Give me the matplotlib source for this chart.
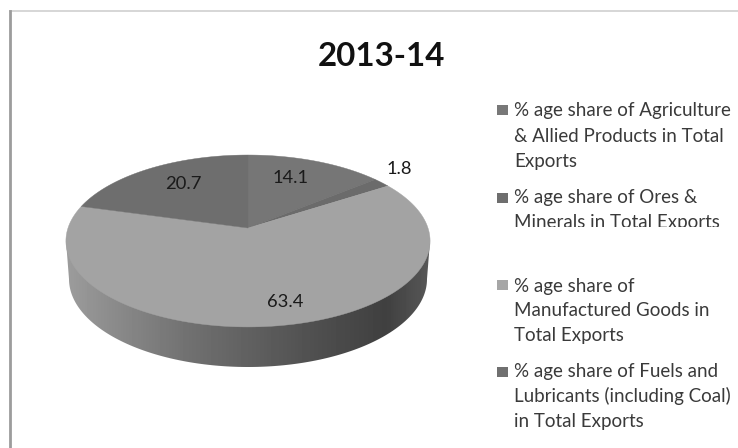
import numpy as np
import matplotlib
matplotlib.use('Agg')
import matplotlib.pyplot as plt
from matplotlib.patches import Polygon, Rectangle

values = [14.1, 1.8, 63.4, 20.7]
value_labels = ['14.1', '1.8', '63.4', '20.7']
slice_colors = ['#767676', '#6b6b6b', '#a3a3a3', '#6e6e6e']
legend_colors = ['#787878', '#6e6e6e', '#a6a6a6', '#707070']
legend_lines = [
    ['% age share of Agriculture', '& Allied Products in Total', 'Exports'],
    ['% age share of Ores &', 'Minerals in Total Exports'],
    ['% age share of', 'Manufactured Goods in', 'Total Exports'],
    ['% age share of Fuels and', 'Lubricants (including Coal)', 'in Total Exports'],
]
title = '2013-14'

plt.rcParams['font.family'] = ['Lato', 'DejaVu Sans']

fig = plt.figure(figsize=(7.38, 4.48), dpi=100)
ax = fig.add_axes([0, 0, 1, 1])
ax.set_xlim(0, 738)
ax.set_ylim(448, 0)
ax.axis('off')

# frame, only the top and left edges show
ax.plot([10, 738], [11.5, 11.5], color='#cfcfcf', lw=1.2)
ax.plot([10, 10], [11, 448], color='#9c9c9c', lw=2)

ax.text(381, 56, title, fontsize=23.8, fontweight='bold', color='#111111',
        ha='center', va='center')

# the pie is tilted, so the disc goes through a small perspective map
cx, cy = 248, 228
ax_a, ax_b, k = 180, 84, 0.151


def project(t, r=1.0):
    u, v = r * np.sin(t), r * np.cos(t)
    w = 1 + k * v
    return cx + ax_a * u / w, cy - ax_b * v / w


# side wall with the shading running left to right
t = np.linspace(np.pi / 2, 3 * np.pi / 2, 200)
wall = np.column_stack([248 + 179 * np.sin(t), 279 - 88 * np.cos(t)])
wall = np.vstack([[430, 241], wall, [66, 241]])
stops_x = [66, 110, 190, 250, 320, 385, 430]
stops_c = [0x9c, 0x8c, 0x70, 0x60, 0x4e, 0x40, 0x58]
shade = np.interp(np.arange(66, 431), stops_x, stops_c) / 255
im = ax.imshow(shade[np.newaxis, :], cmap='gray', vmin=0, vmax=1, aspect='auto',
               extent=[66, 431, 368, 240], zorder=1)
im.set_clip_path(Polygon(wall, transform=ax.transData))
ax.set_xlim(0, 738)
ax.set_ylim(448, 0)

# top face
edges = np.cumsum([0] + values) / sum(values) * 2 * np.pi
for start, end, color in zip(edges[:-1], edges[1:], slice_colors):
    tt = np.linspace(start, end, 150)
    xs, ys = project(tt)
    ax.fill(np.r_[cx, xs], np.r_[cy, ys], color=color, lw=0.3, zorder=2)

label_xy = [(291, 178), (399, 169), (285, 302), (183, 184)]
for (x, y), s in zip(label_xy, value_labels):
    ax.text(x, y, s, fontsize=13.2, color='#1a1a1a', ha='center', va='center', zorder=3)

# legend
marker_y = [110, 198, 285, 372]
line_y = [[116, 141.5, 167], [203, 228], [292, 316, 341], [377, 402, 427]]
for color, my, lines, ys in zip(legend_colors, marker_y, legend_lines, line_y):
    ax.add_patch(Rectangle((497, my - 5), 10.5, 10.5, color=color, lw=0))
    for s, y in zip(lines, ys):
        txt = ax.text(514, y, s, fontsize=13.5, color='#3a3a3a', ha='left', va='baseline')
        # the second block is cut off just under its last line
        if lines[-1].startswith('Minerals'):
            txt.set_clip_on(True)
            txt.set_clip_path(Rectangle((490, 180), 248, 47.5, transform=ax.transData))

fig.savefig('out.png', dpi=100)
